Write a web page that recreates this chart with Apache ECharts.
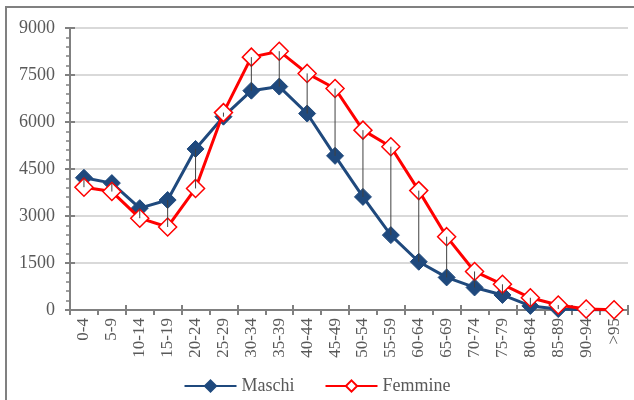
<!DOCTYPE html>
<html>
<head>
<meta charset="utf-8">
<script src="https://cdn.jsdelivr.net/npm/echarts@6/dist/echarts.min.js"></script>
<style>
html,body{margin:0;padding:0;background:#fff;}
#main{width:634px;height:400px;}
</style>
</head>
<body>
<div id="main"></div>
<script>
var classi = ['0-4','5-9','10-14','15-19','20-24','25-29','30-34','35-39','40-44','45-49',
	'50-54','55-59','60-64','65-69','70-74','75-79','80-84','85-89','90-94','>95'];
var maschi = [4220, 4050, 3250, 3510, 5140, 6170, 7000, 7130, 6270, 4920,
	3610, 2390, 1540, 1040, 720, 480, 130, 30, 8, 2];
var femmine = [3920, 3780, 2930, 2650, 3880, 6300, 8070, 8260, 7550, 7070,
	5740, 5210, 3810, 2340, 1230, 820, 390, 160, 30, 8];
var yTicks = [0, 9000, 1500];   // min, max, passo

var font = 'Liberation Serif';
var grigio = '#808080';

var MyEchart = echarts.init(document.getElementById('main'));

// linee verticali tra maschi e femmine
var dropData = classi.map(function (c, i) { return [i, maschi[i], femmine[i]]; });

var option = {
	animation: false,
	graphic: [{
		type: 'rect',
		shape: {x: 6, y: 7, width: 640, height: 410},
		style: {fill: 'none', stroke: grigio, lineWidth: 2},
		silent: true
	}],
	grid: {
		left: 70,
		right: 6,
		top: 28,
		bottom: 90
	},
	legend: {
		bottom: 0,
		left: 'center',
		itemWidth: 52,
		itemHeight: 14,
		itemGap: 30,
		textStyle: {fontFamily: font, fontSize: 18, color: '#595959'},
		data: ['Maschi', 'Femmine']
	},
	xAxis: [
		{
			type: 'category',
			data: classi,
			axisLine: {show: true, lineStyle: {color: grigio, width: 2}},
			axisTick: {show: true, length: 5, lineStyle: {color: grigio, width: 2}},
			axisLabel: {
				interval: 0,
				rotate: 90,
				margin: 8,
				fontFamily: font,
				fontSize: 17,
				color: '#595959'
			}
		},
		{
			// tacche interne (incrociate)
			type: 'category',
			data: classi,
			position: 'bottom',
			axisLine: {show: false},
			axisTick: {show: true, inside: true, length: 5, lineStyle: {color: grigio, width: 2}},
			axisLabel: {show: false}
		}
	],
	yAxis: [
		{
			type: 'value',
			min: yTicks[0],
			max: yTicks[1],
			interval: yTicks[2],
			axisLine: {show: true, lineStyle: {color: grigio, width: 2}},
			axisTick: {show: true, length: 5, lineStyle: {color: grigio, width: 2}},
			minorTick: {show: true, splitNumber: 5, length: 4, lineStyle: {color: grigio, width: 1.5}},
			splitLine: {show: true, lineStyle: {color: '#d9d9d9', width: 2}},
			axisLabel: {
				fontFamily: font, fontSize: 18, color: '#595959', margin: 15,
				formatter: function (v) { return String(v); }
			}
		},
		{
			type: 'value',
			min: yTicks[0],
			max: yTicks[1],
			interval: yTicks[2],
			position: 'left',
			axisLine: {show: false},
			axisTick: {show: true, inside: true, length: 5, lineStyle: {color: grigio, width: 2}},
			splitLine: {show: false},
			axisLabel: {show: false}
		}
	],
	series: [
		{
			name: 'Maschi',
			type: 'line',
			data: maschi,
			symbol: 'diamond',
			symbolSize: 17,
			lineStyle: {color: '#1f497d', width: 3},
			itemStyle: {color: '#1f497d', borderColor: '#1f497d', borderWidth: 1},
			z: 3
		},
		{
			name: 'Femmine',
			type: 'line',
			data: femmine,
			symbol: 'diamond',
			symbolSize: 18,
			showAllSymbol: true,
			lineStyle: {color: '#ff0000', width: 3},
			itemStyle: {color: '#ffffff', borderColor: '#ff0000', borderWidth: 1.5},
			z: 4
		},
		{
			type: 'custom',
			data: dropData,
			z: 10,
			silent: true,
			renderItem: function (params, api) {
				var p1 = api.coord([api.value(0), api.value(1)]);
				var p2 = api.coord([api.value(0), api.value(2)]);
				return {
					type: 'line',
					shape: {x1: p1[0], y1: p1[1], x2: p2[0], y2: p2[1]},
					style: {stroke: '#404040', lineWidth: 1}
				};
			}
		}
	]
};
MyEchart.setOption(option);
</script>
</body>
</html>
